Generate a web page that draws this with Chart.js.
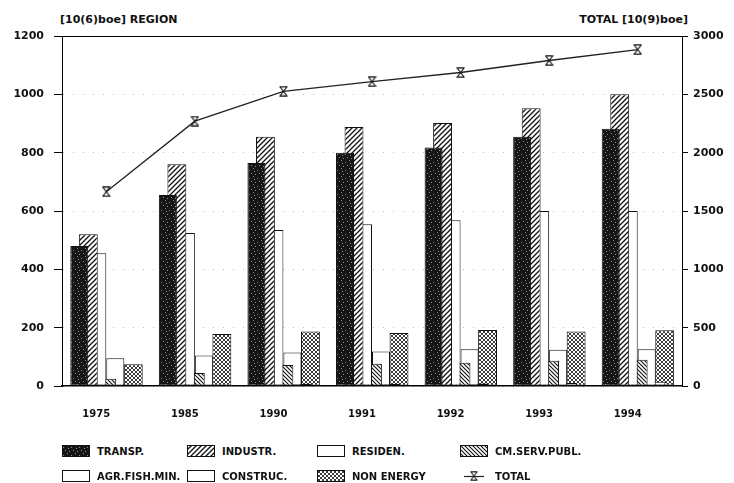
<!DOCTYPE html>
<html>
<head>
<meta charset="utf-8">
<script src="https://cdn.jsdelivr.net/npm/chart.js@4.4.1/dist/chart.umd.min.js"></script>
<style>
body { margin:0; background:#fff; width:734px; height:483px; overflow:hidden; position:relative;
       font-family:"DejaVu Sans", sans-serif; font-weight:bold; color:#111; }
#wrap { position:absolute; left:0; top:0; width:734px; height:420px; }
.hd { position:absolute; top:13px; font-size:11px; }
#legend { position:absolute; left:62px; top:444px; display:grid;
          grid-template-columns:125px 130px 143px 150px; row-gap:11px; font-size:10px; }
.item { display:flex; align-items:center; height:14px; }
.item canvas { margin-right:7px; }
</style>
</head>
<body>
<div class="hd" style="left:60px">[10(6)boe] REGION</div>
<div class="hd" style="right:46px">TOTAL [10(9)boe]</div>
<div id="wrap"><canvas id="myChart"></canvas></div>
<div id="legend"></div>
<script>
var years = ["1975", "1985", "1990", "1991", "1992", "1993", "1994"];
var transp     = [480, 655, 765, 800, 818, 855, 882];
var industr    = [520, 760, 855, 888, 902, 952, 1000];
var residen    = [455, 525, 535, 555, 568, 600, 600];
var cmServPubl = [25, 45, 72, 76, 80, 87, 90];
var agrFishMin = [95, 105, 115, 118, 126, 124, 126];
var construc   = [3, 4, 8, 8, 9, 10, 15];
var nonEnergy  = [75, 178, 187, 182, 192, 187, 191];
var total      = [1665, 2270, 2526, 2609, 2687, 2790, 2884];
var leftTicks  = [0, 200, 400, 600, 800, 1000, 1200];
var rightTicks = [0, 500, 1000, 1500, 2000, 2500, 3000];

// fill patterns for the bars
function makePattern(w, h, draw) {
  var c = document.createElement("canvas");
  c.width = w; c.height = h;
  var g = c.getContext("2d");
  g.fillStyle = "#fff";
  g.fillRect(0, 0, w, h);
  draw(g);
  return g.createPattern(c, "repeat");
}

var darkFill = makePattern(8, 8, function (g) {
  g.fillStyle = "#161616";
  g.fillRect(0, 0, 8, 8);
  g.fillStyle = "#8a8a8a";
  [[1, 2], [5, 0], [3, 5], [7, 6], [6, 3]].forEach(function (p) { g.fillRect(p[0], p[1], 1, 1); });
});
var slashFill = makePattern(5, 5, function (g) {
  g.strokeStyle = "#111"; g.lineWidth = 1.3;
  g.beginPath();
  g.moveTo(0, 5); g.lineTo(5, 0);
  g.moveTo(-1, 1); g.lineTo(1, -1);
  g.moveTo(4, 6); g.lineTo(6, 4);
  g.stroke();
});
var backFill = makePattern(4, 4, function (g) {
  g.strokeStyle = "#111"; g.lineWidth = 1.1;
  g.beginPath();
  g.moveTo(0, 0); g.lineTo(4, 4);
  g.moveTo(3, -1); g.lineTo(5, 1);
  g.moveTo(-1, 3); g.lineTo(1, 5);
  g.stroke();
});
var crossFill = makePattern(4, 4, function (g) {
  g.strokeStyle = "#222"; g.lineWidth = 0.9;
  g.beginPath();
  g.moveTo(0, 0); g.lineTo(4, 4);
  g.moveTo(4, 0); g.lineTo(0, 4);
  g.stroke();
});

var hourglass = (function () {
  var c = document.createElement("canvas");
  c.width = 9; c.height = 11;
  var g = c.getContext("2d");
  g.strokeStyle = "#111"; g.lineWidth = 1.2;
  g.beginPath();
  g.moveTo(0.5, 0.8); g.lineTo(8.5, 0.8);
  g.moveTo(0.5, 10.2); g.lineTo(8.5, 10.2);
  g.moveTo(1, 1); g.lineTo(8, 10);
  g.moveTo(8, 1); g.lineTo(1, 10);
  g.stroke();
  return c;
})();

function barSet(label, data, fill, pct) {
  return {
    type: "bar", label: label, data: data,
    backgroundColor: fill, borderColor: "#111", borderWidth: 1,
    borderSkipped: false, barPercentage: pct, categoryPercentage: 0.711
  };
}

var frame = {
  id: "frame",
  afterDraw: function (chart) {
    var a = chart.chartArea, ctx = chart.ctx;
    ctx.save();
    ctx.strokeStyle = "#000"; ctx.lineWidth = 1;
    ctx.beginPath();
    ctx.moveTo(a.left, a.top + 0.5); ctx.lineTo(a.right, a.top + 0.5);
    ctx.stroke();
    ctx.restore();
  }
};

var tickFont = { family: "DejaVu Sans", size: 11, weight: "bold" };
var plain = function (v) { return String(v); };

var ctx = document.getElementById("myChart");
var chart = new Chart(ctx, {
  data: {
    labels: years,
    datasets: [
      barSet("TRANSP.", transp, darkFill, 2),
      barSet("INDUSTR.", industr, slashFill, 2.1),
      barSet("RESIDEN.", residen, "#fff", 2),
      barSet("CM.SERV.PUBL.", cmServPubl, backFill, 2.2),
      barSet("AGR.FISH.MIN.", agrFishMin, "#fff", 2),
      barSet("CONSTRUC.", construc, "#fff", 2.2),
      barSet("NON ENERGY", nonEnergy, crossFill, 2.1),
      {
        type: "line", label: "TOTAL", data: total, yAxisID: "y2", order: -1,
        borderColor: "#222", borderWidth: 1.3, tension: 0,
        pointStyle: hourglass, pointRadius: 5, fill: false
      }
    ]
  },
  options: {
    responsive: true,
    maintainAspectRatio: false,
    animation: false,
    layout: { padding: { top: 36 } },
    plugins: { legend: { display: false }, tooltip: { enabled: false } },
    scales: {
      x: {
        grid: { display: false },
        border: { display: true, color: "#000", width: 1.5 },
        ticks: { color: "#111", font: { family: "DejaVu Sans", size: 10, weight: "bold" }, padding: 14, labelOffset: -10, maxRotation: 0 },
        afterFit: function (s) { s.height = 34; }
      },
      y: {
        position: "left", min: 0, max: 1200,
        afterBuildTicks: function (s) { s.ticks = leftTicks.map(function (v) { return { value: v }; }); },
        grid: { color: "#bbb", tickColor: "#000", tickLength: 8 },
        border: { display: true, color: "#000", dash: [1, 9] },
        ticks: { color: "#111", font: tickFont, padding: 10, callback: plain },
        afterFit: function (s) { s.width = 62; }
      },
      y2: {
        position: "right", min: 0, max: 3000,
        afterBuildTicks: function (s) { s.ticks = rightTicks.map(function (v) { return { value: v }; }); },
        grid: { drawOnChartArea: false, tickColor: "#000", tickLength: 6 },
        border: { display: true, color: "#000" },
        ticks: { color: "#111", font: tickFont, padding: 5, callback: plain },
        afterFit: function (s) { s.width = 52; }
      }
    }
  },
  plugins: [frame]
});

// legend grid built from the datasets
var legend = document.getElementById("legend");
chart.data.datasets.forEach(function (ds) {
  var item = document.createElement("div");
  item.className = "item";
  var sw = document.createElement("canvas");
  sw.width = 28; sw.height = 12;
  var g = sw.getContext("2d");
  if (ds.type === "line") {
    g.strokeStyle = "#222"; g.lineWidth = 1.2;
    g.beginPath(); g.moveTo(4, 6.5); g.lineTo(24, 6.5); g.stroke();
    g.drawImage(hourglass, 10, 1, 8, 10);
  } else {
    g.fillStyle = ds.backgroundColor;
    g.fillRect(0.5, 0.5, 27, 11);
    g.strokeStyle = "#111"; g.lineWidth = 1;
    g.strokeRect(0.5, 0.5, 27, 11);
  }
  item.appendChild(sw);
  var t = document.createElement("span");
  t.textContent = ds.label;
  item.appendChild(t);
  legend.appendChild(item);
});
</script>
</body>
</html>
